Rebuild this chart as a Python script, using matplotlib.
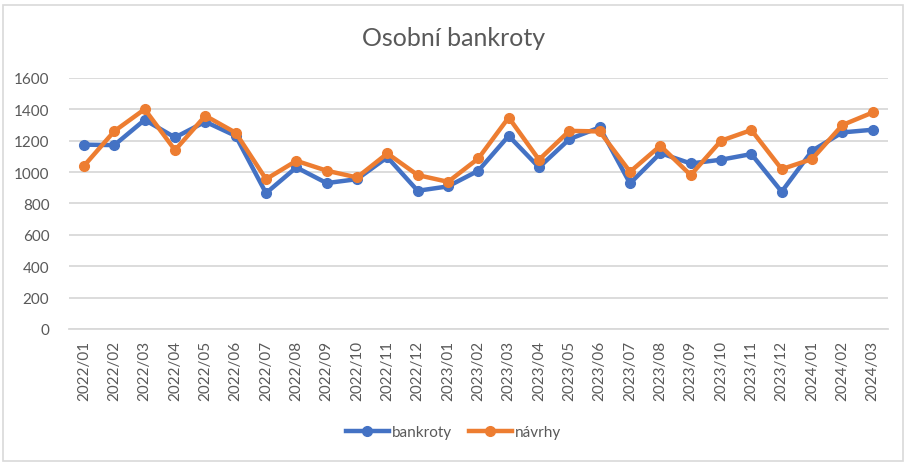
import matplotlib.pyplot as plt
from matplotlib.patches import Rectangle

plt.rcParams['font.family'] = ['Lato', 'DejaVu Sans']

months = ["2022/01", "2022/02", "2022/03", "2022/04", "2022/05", "2022/06",
          "2022/07", "2022/08", "2022/09", "2022/10", "2022/11", "2022/12",
          "2023/01", "2023/02", "2023/03", "2023/04", "2023/05", "2023/06",
          "2023/07", "2023/08", "2023/09", "2023/10", "2023/11", "2023/12",
          "2024/01", "2024/02", "2024/03"]
bankroty = [1175, 1172, 1333, 1221, 1321, 1231, 866, 1030, 930, 955, 1095, 881,
            909, 1009, 1231, 1030, 1210, 1285, 928, 1121, 1055, 1079, 1115, 875,
            1136, 1253, 1270]
navrhy = [1040, 1261, 1401, 1140, 1359, 1251, 955, 1072, 1009, 966, 1119, 981,
          938, 1087, 1348, 1079, 1263, 1259, 1002, 1168, 981, 1200, 1268, 1019,
          1083, 1300, 1380]

grey = '#595959'
fig = plt.figure(figsize=(9.07, 4.64), dpi=100)
ax = fig.add_axes([0.0759, 0.2888, 0.903, 0.541])

x = range(len(months))
ax.plot(x, bankroty, color='#4472C4', lw=3.2, marker='o', ms=7, label='bankroty',
        solid_joinstyle='round', zorder=3)
ax.plot(x, navrhy, color='#ED7D31', lw=3.2, marker='o', ms=7, label='návrhy',
        solid_joinstyle='round', zorder=4)

ax.set_xlim(-0.5, len(months) - 0.5)
ax.set_ylim(0, 1600)
ax.set_yticks(range(0, 1601, 200))
ax.set_xticks(list(x))
ax.set_xticklabels(months, rotation=90)
ax.yaxis.grid(True, color='#D9D9D9', lw=1.3)
ax.set_axisbelow(True)
for s in ['top', 'right', 'left']:
    ax.spines[s].set_visible(False)
ax.spines['bottom'].set_color('#D9D9D9')
ax.spines['bottom'].set_linewidth(1.3)
ax.tick_params(axis='both', length=0, labelsize=11, colors=grey)
ax.tick_params(axis='y', pad=14)
ax.tick_params(axis='x', pad=8)

fig.text(0.5, 0.918, 'Osobní bankroty', ha='center', va='center', fontsize=18, color=grey)

leg = fig.legend(loc='center', bbox_to_anchor=(0.5, 0.067), ncol=2, frameon=False,
                 fontsize=11, handlelength=2.8, handletextpad=0.2, columnspacing=1.1,
                 labelcolor=grey)

fig.patches.append(Rectangle((3 / 907, 2 / 464), 900 / 907, 456 / 464, transform=fig.transFigure,
                             fill=False, edgecolor='#D9D9D9', lw=1.2))

fig.savefig('out.png', dpi=100)
